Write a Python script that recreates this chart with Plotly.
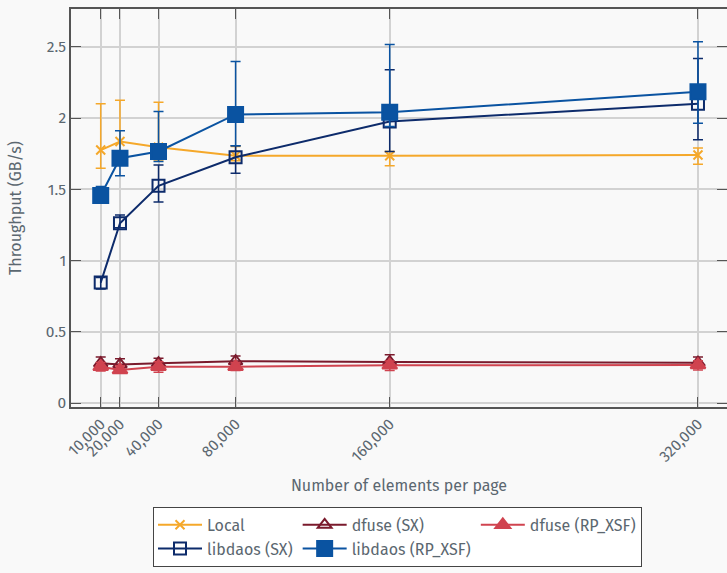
import plotly.graph_objects as go

# Page sizes tested (number of elements per page)
elements = [10000, 20000, 40000, 80000, 160000, 320000]
tick_labels = ["10,000", "20,000", "40,000", "80,000", "160,000", "320,000"]

# Mean throughput (GB/s) and min / max spread for each backend
local_mean = [1.775, 1.835, 1.795, 1.735, 1.735, 1.740]
local_lo = [1.648, 1.740, 1.705, 1.700, 1.665, 1.676]
local_hi = [2.100, 2.125, 2.110, 1.800, 1.765, 1.789]

dfuse_sx_mean = [0.279, 0.271, 0.279, 0.293, 0.288, 0.283]
dfuse_sx_lo = [0.245, 0.240, 0.245, 0.260, 0.255, 0.250]
dfuse_sx_hi = [0.323, 0.311, 0.314, 0.330, 0.339, 0.323]

dfuse_rp_mean = [0.255, 0.232, 0.255, 0.255, 0.265, 0.267]
dfuse_rp_lo = [0.225, 0.208, 0.215, 0.228, 0.228, 0.232]
dfuse_rp_hi = [0.285, 0.262, 0.290, 0.285, 0.295, 0.297]

libdaos_sx_mean = [0.845, 1.262, 1.524, 1.725, 1.975, 2.100]
libdaos_sx_lo = [0.800, 1.230, 1.410, 1.613, 1.765, 1.847]
libdaos_sx_hi = [0.880, 1.320, 1.670, 1.805, 2.339, 2.418]

libdaos_rp_mean = [1.456, 1.718, 1.765, 2.025, 2.040, 2.185]
libdaos_rp_lo = [1.410, 1.594, 1.695, 1.805, 1.940, 1.964]
libdaos_rp_hi = [1.520, 1.910, 2.046, 2.397, 2.516, 2.535]

TEXT = "#5b6770"
FONT = "Fira Sans, Noto Sans, sans-serif"


def series(name, mean, lo, hi, color, symbol, size, column):
    plus = [h - m for h, m in zip(hi, mean)]
    minus = [m - l for m, l in zip(mean, lo)]
    return go.Scatter(
        x=elements, y=mean, name=name, mode="lines+markers",
        legendgroup=column,
        line=dict(color=color, width=2),
        marker=dict(symbol=symbol, size=size, color=color,
                    line=dict(color=color, width=2)),
        error_y=dict(type="data", symmetric=False, array=plus,
                     arrayminus=minus, color=color, thickness=1.5, width=5),
    )


# legend groups act as the legend's columns
fig = go.Figure()
fig.add_trace(series("Local", local_mean, local_lo, local_hi,
                     "#f5a82a", "x-thin", 9, "c1"))
fig.add_trace(series("dfuse (SX)", dfuse_sx_mean, dfuse_sx_lo, dfuse_sx_hi,
                     "#7a1a2c", "triangle-up-open", 12, "c2"))
fig.add_trace(series("dfuse (RP_XSF)", dfuse_rp_mean, dfuse_rp_lo, dfuse_rp_hi,
                     "#d0434f", "triangle-up", 13, "c3"))
fig.add_trace(series("libdaos (SX)", libdaos_sx_mean, libdaos_sx_lo, libdaos_sx_hi,
                     "#0d2b6b", "square-open", 12, "c1"))
fig.add_trace(series("libdaos (RP_XSF)", libdaos_rp_mean, libdaos_rp_lo, libdaos_rp_hi,
                     "#0a53a1", "square", 15, "c2"))

axis_common = dict(
    showgrid=True, gridcolor="#d2d2d2", gridwidth=1.5,
    showline=True, linecolor="#555555", linewidth=1.5,
    ticks="inside", ticklen=10, tickcolor="#555555", tickwidth=1.2,
    mirror="ticks", zeroline=False,
    tickfont=dict(family=FONT, size=15.5, color=TEXT),
)

fig.update_layout(
    width=727, height=573,
    margin=dict(l=71, r=0, t=9, b=166, autoexpand=False),
    paper_bgcolor="#f9f9f9", plot_bgcolor="#f9f9f9",
    font=dict(family=FONT, size=16, color=TEXT),
    xaxis=dict(
        **axis_common,
        range=[-5420, 335060],
        tickmode="array", tickvals=elements, ticktext=tick_labels,
        tickangle=-45,
        title=dict(text="Number of elements per page",
                   font=dict(family=FONT, size=16, color=TEXT), standoff=15),
    ),
    yaxis=dict(
        **axis_common,
        range=[-0.028, 2.765],
        tickvals=[0, 0.5, 1, 1.5, 2, 2.5],
        title=dict(text="Throughput (GB/s)",
                   font=dict(family=FONT, size=16, color=TEXT), standoff=20),
    ),
    legend=dict(
        orientation="h", traceorder="grouped",
        x=0.125, xanchor="left", y=-0.251, yanchor="top",
        bgcolor="#ffffff", bordercolor="#444444", borderwidth=1,
        font=dict(family=FONT, size=16, color=TEXT),
        itemwidth=44, tracegroupgap=0,
    ),
    showlegend=True,
)

fig.write_html("out.html")
